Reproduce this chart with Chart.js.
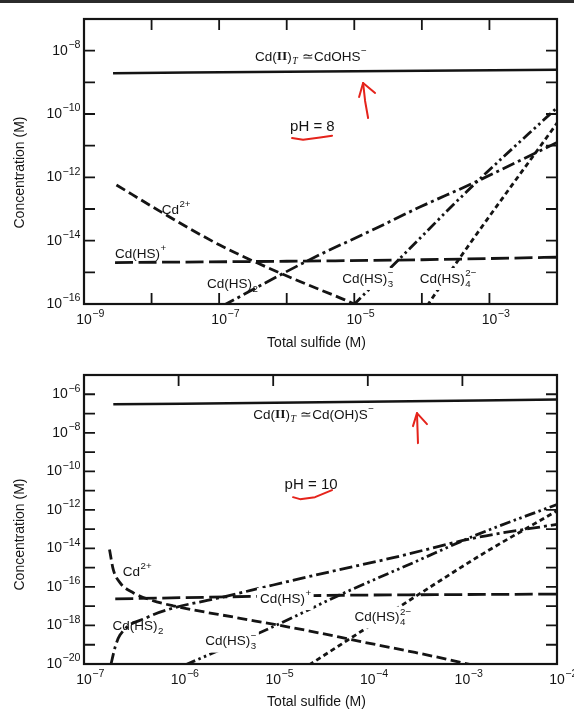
<!DOCTYPE html>
<html>
<head>
<meta charset="utf-8">
<script src="https://cdn.jsdelivr.net/npm/chart.js@4.4.0/dist/chart.umd.min.js"></script>
<style>
  body { margin: 0; background: #fff; width: 574px; height: 713px; overflow: hidden; position: relative; }
  #scanEdge { position: absolute; left: 0; top: 0; width: 574px; height: 3px; background: #2b2b2b; }
  canvas { position: absolute; left: 0; }
  #phTop { top: 0; }
  #phBottom { top: 360px; }
</style>
</head>
<body>
<div id="scanEdge"></div>
<canvas id="phTop" width="574" height="352"></canvas>
<canvas id="phBottom" width="574" height="353"></canvas>
<script>
// ---- pH = 8 panel (total sulfide in M, concentration in M) ----
const pH8SulfideCdT = [2.69e-9, 3.16e-6, 1e-2];
const pH8CdT = [1.95e-9, 2.19e-9, 2.51e-9];
const pH8SulfideCd = [3.02e-9, 1.48e-8, 1.02e-7, 3.63e-7, 1.74e-6, 7.24e-6, 1.26e-5];
const pH8Cd = [5.75e-13, 7.41e-14, 7.24e-15, 2.0e-15, 4.68e-16, 1.35e-16, 7.9e-17];
const pH8SulfideCdHS = [2.88e-9, 1e-6, 1e-4, 1e-2];
const pH8CdHS = [2.04e-15, 2.24e-15, 2.5e-15, 3.0e-15];
const pH8SulfideCdHS2 = [1.12e-7, 2.19e-6, 2.14e-5, 9.33e-5, 5.75e-4, 1e-2];
const pH8CdHS2 = [8.7e-17, 2.51e-15, 2.51e-14, 1.15e-13, 6.6e-13, 1.26e-11];
const pH8SulfideCdHS3 = [9.55e-6, 4.79e-5, 5.75e-4, 1e-2];
const pH8CdHS3 = [8.9e-17, 2.82e-15, 5.6e-13, 1.58e-10];
const pH8SulfideCdHS4 = [1.2e-4, 3.63e-4, 1e-2];
const pH8CdHS4 = [8.9e-17, 2.82e-15, 5.13e-11];

// ---- pH = 10 panel ----
const pH10SulfideCdT = [2.04e-7, 3.16e-5, 1e-2];
const pH10CdT = [3.02e-7, 3.8e-7, 5.37e-7];
const pH10SulfideCd = [1.86e-7, 2.04e-7, 2.4e-7, 3.31e-7, 5.01e-7, 8.71e-7, 4.17e-6, 1.1e-5, 3.16e-5, 6.92e-5, 3.16e-4, 7.41e-4, 1.26e-3];
const pH10Cd = [8.71e-15, 7.94e-16, 1.66e-16, 5.01e-17, 2.14e-17, 1.05e-17, 2.51e-18, 1.07e-18, 3.98e-19, 1.78e-19, 3.98e-20, 1.62e-20, 8.9e-21];
const pH10SulfideCdHS = [2.14e-7, 2.51e-5, 1e-2];
const pH10CdHS = [2.4e-17, 3.55e-17, 4.27e-17];
const pH10SulfideCdHS2 = [1.91e-7, 2.14e-7, 2.4e-7, 4.57e-7, 8.71e-7, 2.51e-6, 1e-5, 2.82e-5, 1.86e-4, 1.41e-3, 1e-2];
const pH10CdHS2 = [7.94e-21, 7.94e-20, 3.16e-19, 2.51e-18, 7.94e-18, 2.51e-17, 1.26e-16, 4.17e-16, 3.31e-15, 3.63e-14, 1.78e-13];
const pH10SulfideCdHS3 = [1.17e-6, 9.33e-6, 5.13e-5, 3.16e-4, 1.41e-3, 1e-2];
const pH10CdHS3 = [8.9e-21, 7.41e-19, 3.98e-17, 2.0e-15, 5.01e-14, 1.91e-12];
const pH10SulfideCdHS4 = [2.4e-5, 3.55e-4, 1.66e-3, 1e-2];
const pH10CdHS4 = [8.9e-21, 4.47e-17, 5.37e-15, 8.91e-13];

// tick exponents (decades) and which ones carry a label
const pH8XTicks = [-9, -8, -7, -6, -5, -4, -3, -2];
const pH8XLabels = [-9, -7, -5, -3];
const pH8YTicks = [-16, -15, -14, -13, -12, -11, -10, -9, -8, -7];
const pH8YLabels = [-16, -14, -12, -10, -8];
const pH10XTicks = [-7, -6, -5, -4, -3, -2];
const pH10XLabels = [-7, -6, -5, -4, -3, -2];
const pH10YTicks = [-20, -19, -18, -17, -16, -15, -14, -13, -12, -11, -10, -9, -8, -7, -6, -5];
const pH10YLabels = [-20, -18, -16, -14, -12, -10, -8, -6];

const INK = '#141414';
const RED = '#e5231b';
const SANS = '"Liberation Sans", Arial, sans-serif';
const SERIF = '"Liberation Serif", "Times New Roman", serif';
const MINUS = '\u2212';

const lineStyles = {
    CdT:   { borderDash: [], borderWidth: 2.5 },
    Cd:    { borderDash: [10, 4.5], borderWidth: 2.8 },
    CdHS:  { borderDash: [18, 5.5], borderWidth: 2.8 },
    CdHS2: { borderDash: [13, 4, 3, 4], borderWidth: 2.8 },
    CdHS3: { borderDash: [11, 3.5, 2.5, 3.5, 2.5, 3.5], borderWidth: 2.8 },
    CdHS4: { borderDash: [5, 3.5], borderWidth: 2.8 }
};

function series(name, xs, ys) {
    return Object.assign({
        label: name,
        data: xs.map((x, i) => ({ x: x, y: ys[i] })),
        showLine: true,
        pointRadius: 0,
        borderColor: INK,
        fill: false,
        borderCapStyle: 'butt',
        cubicInterpolationMode: 'monotone'
    }, lineStyles[name]);
}

// in-plot labels (anchor in data units, text parts); knockout = white box behind the text
const cdTPrefix = [{ t: 'Cd(' }, { t: 'II', serif: true, bold: true }, { t: ')' }, { sub: 'T', serif: true, italic: true }, { t: ' \u2243' }];
const pH8Labels = [
    { x: 3.39e-7, y: 6.31e-9, parts: cdTPrefix.concat([{ t: 'CdOHS' }, { sup: MINUS }]) },
    { x: 1.12e-6, y: 3.89e-11, size: 15, parts: [{ t: 'pH = 8' }] },
    { x: 1.41e-8, y: 9.33e-14, parts: [{ t: 'Cd' }, { sup: '2+' }] },
    { x: 2.88e-9, y: 3.8e-15, parts: [{ t: 'Cd(HS)' }, { sup: '+' }] },
    { x: 6.61e-8, y: 4.27e-16, parts: [{ t: 'Cd(HS)' }, { sub: '2' }] },
    { x: 6.61e-6, y: 6.17e-16, knockout: true, parts: [{ t: 'Cd(HS)' }, { sub: '3', sup: MINUS }] },
    { x: 9.33e-5, y: 6.17e-16, knockout: true, parts: [{ t: 'Cd(HS)' }, { sub: '4', sup: '2' + MINUS }] }
];
const pH10Labels = [
    { x: 6.17e-6, y: 8.51e-8, parts: cdTPrefix.concat([{ t: 'Cd(OH)S' }, { sup: MINUS }]) },
    { x: 1.32e-5, y: 1.95e-11, size: 15, parts: [{ t: 'pH = 10' }] },
    { x: 2.57e-7, y: 6.03e-16, parts: [{ t: 'Cd' }, { sup: '2+' }] },
    { x: 7.24e-6, y: 2.34e-17, knockout: true, parts: [{ t: 'Cd(HS)' }, { sup: '+' }] },
    { x: 2.0e-7, y: 8.71e-19, parts: [{ t: 'Cd(HS)' }, { sub: '2' }] },
    { x: 1.91e-6, y: 1.45e-19, knockout: true, parts: [{ t: 'Cd(HS)' }, { sub: '3', sup: MINUS }] },
    { x: 7.24e-5, y: 2.57e-18, knockout: true, parts: [{ t: 'Cd(HS)' }, { sub: '4', sup: '2' + MINUS }] }
];

// red pen marks on the scan: anchor in data units, strokes as pixel offsets
const pH8Marks = [
    { x: 1.35e-5, y: 9.55e-10, strokes: [[[5, 35], [2, 18], [0, 0]], [[-4, 14], [0, 0], [12, 10]]] },
    { x: 1.2e-6, y: 1.74e-11, strokes: [[[0, 0], [11, 1.7], [28, -0.5], [40, -2.3]]] }
];
const pH10Marks = [
    { x: 3.31e-4, y: 1.05e-7, strokes: [[[1, 30], [0, 0]], [[-4, 13], [0, 0], [10, 11]]] },
    { x: 1.62e-5, y: 4.57e-12, strokes: [[[0, 0], [7, 2], [22, 0], [39, -7]]] }
];

function fontFor(size, p) {
    return (p.italic ? 'italic ' : '') + (p.bold ? 'bold ' : '') + size + 'px ' + (p.serif ? SERIF : SANS);
}

// draws text with sub/superscripts; returns width
function rich(ctx, parts, x, y, size, draw, scriptScale) {
    const k = scriptScale || 0.72;
    let cx = x;
    parts.forEach(p => {
        if (p.t !== undefined) {
            ctx.font = fontFor(size, p);
            if (draw) ctx.fillText(p.t, cx, y);
            cx += ctx.measureText(p.t).width;
        } else {
            const s = size * k;
            let w = 0;
            ctx.font = fontFor(s, p);
            if (p.sup) {
                if (draw) ctx.fillText(p.sup, cx + 0.5, y - size * 0.4);
                w = Math.max(w, ctx.measureText(p.sup).width);
            }
            if (p.sub) {
                if (draw) ctx.fillText(p.sub, cx + 0.5, y + size * 0.36);
                w = Math.max(w, ctx.measureText(p.sub).width);
            }
            cx += w + 1;
        }
    });
    return cx - x;
}

function panelPlugin(cfg) {
    return {
        id: 'panel',
        afterDatasetsDraw(chart) {
            const ctx = chart.ctx;
            const a = chart.chartArea;
            const xs = chart.scales.x, ys = chart.scales.y;
            ctx.save();
            ctx.strokeStyle = INK;
            ctx.fillStyle = INK;

            ctx.lineWidth = 2.2;
            ctx.strokeRect(a.left, a.top, a.right - a.left, a.bottom - a.top);

            // inward ticks
            ctx.lineWidth = 1.8;
            ctx.beginPath();
            cfg.xTicks.forEach(e => {
                const px = xs.getPixelForValue(10 ** e);
                if (px <= a.left + 1 || px >= a.right - 1) return;
                ctx.moveTo(px, a.top); ctx.lineTo(px, a.top + 11);
                if (cfg.bottomTicks) { ctx.moveTo(px, a.bottom); ctx.lineTo(px, a.bottom - 11); }
            });
            cfg.yTicks.forEach(e => {
                const py = ys.getPixelForValue(10 ** e);
                if (py <= a.top + 1 || py >= a.bottom - 1) return;
                ctx.moveTo(a.left, py); ctx.lineTo(a.left + 11, py);
                ctx.moveTo(a.right, py); ctx.lineTo(a.right - 11, py);
            });
            ctx.stroke();

            // tick labels 10^n
            ctx.textBaseline = 'middle';
            ctx.textAlign = 'left';
            ctx.font = '14px ' + SANS;
            const w10 = ctx.measureText('10').width;
            cfg.xLabels.forEach(e => {
                const px = xs.getPixelForValue(10 ** e);
                rich(ctx, [{ t: '10' }, { sup: MINUS + (-e) }], px - w10 / 2, a.bottom + 16, 14, true, 0.76);
            });
            cfg.yLabels.forEach(e => {
                const py = ys.getPixelForValue(10 ** e);
                const parts = [{ t: '10' }, { sup: MINUS + (-e) }];
                const w = rich(ctx, parts, 0, 0, 14, false, 0.76);
                rich(ctx, parts, a.left - 3 - w, py, 14, true, 0.76);
            });

            // axis titles
            ctx.font = '14px ' + SANS;
            ctx.textAlign = 'center';
            ctx.fillText('Total sulfide (M)', (a.left + a.right) / 2 - 4, a.bottom + cfg.xTitleGap);
            ctx.save();
            ctx.translate(20, (a.top + a.bottom) / 2 + cfg.yTitleShift);
            ctx.rotate(-Math.PI / 2);
            ctx.fillText('Concentration (M)', 0, 0);
            ctx.restore();

            // species labels
            ctx.textAlign = 'left';
            cfg.labels.forEach(l => {
                const px = xs.getPixelForValue(l.x), py = ys.getPixelForValue(l.y);
                const size = l.size || 13.5;
                if (l.knockout) {
                    const w = rich(ctx, l.parts, px, py, size, false);
                    ctx.fillStyle = '#fff';
                    ctx.fillRect(px - 3, py - 11, w + 5, 22);
                    ctx.fillStyle = INK;
                }
                rich(ctx, l.parts, px, py, size, true);
            });

            // red pen marks
            ctx.strokeStyle = RED;
            ctx.lineWidth = 2;
            ctx.lineCap = 'round';
            ctx.lineJoin = 'round';
            cfg.marks.forEach(m => {
                const px = xs.getPixelForValue(m.x), py = ys.getPixelForValue(m.y);
                m.strokes.forEach(s => {
                    ctx.beginPath();
                    s.forEach((d, i) => i ? ctx.lineTo(px + d[0], py + d[1]) : ctx.moveTo(px + d[0], py + d[1]));
                    ctx.stroke();
                });
            });
            ctx.restore();
        }
    };
}

function makePanel(canvasId, datasets, cfg) {
    return new Chart(document.getElementById(canvasId), {
        type: 'scatter',
        data: { datasets: datasets },
        options: {
            responsive: false,
            animation: false,
            events: [],
            layout: { padding: { top: cfg.padTop, right: 17, left: 0, bottom: 0 } },
            plugins: { legend: { display: false }, tooltip: { enabled: false } },
            scales: {
                x: {
                    type: 'logarithmic', min: cfg.xMin, max: cfg.xMax,
                    grid: { display: false }, border: { display: false }, ticks: { display: false },
                    afterFit: s => { s.height = cfg.xAxisHeight; }
                },
                y: {
                    type: 'logarithmic', min: cfg.yMin, max: cfg.yMax,
                    grid: { display: false }, border: { display: false }, ticks: { display: false },
                    afterFit: s => { s.width = 84; }
                }
            }
        },
        plugins: [panelPlugin(cfg)]
    });
}

document.addEventListener('DOMContentLoaded', () => {
    makePanel('phTop', [
        series('CdT', pH8SulfideCdT, pH8CdT),
        series('Cd', pH8SulfideCd, pH8Cd),
        series('CdHS', pH8SulfideCdHS, pH8CdHS),
        series('CdHS2', pH8SulfideCdHS2, pH8CdHS2),
        series('CdHS3', pH8SulfideCdHS3, pH8CdHS3),
        series('CdHS4', pH8SulfideCdHS4, pH8CdHS4)
    ], {
        xMin: 1e-9, xMax: 1e-2, yMin: 1e-16, yMax: 1e-7,
        padTop: 19, xAxisHeight: 48,
        xTicks: pH8XTicks, xLabels: pH8XLabels, yTicks: pH8YTicks, yLabels: pH8YLabels,
        bottomTicks: true, xTitleGap: 39, yTitleShift: 11,
        labels: pH8Labels, marks: pH8Marks
    });

    makePanel('phBottom', [
        series('CdT', pH10SulfideCdT, pH10CdT),
        series('Cd', pH10SulfideCd, pH10Cd),
        series('CdHS', pH10SulfideCdHS, pH10CdHS),
        series('CdHS2', pH10SulfideCdHS2, pH10CdHS2),
        series('CdHS3', pH10SulfideCdHS3, pH10CdHS3),
        series('CdHS4', pH10SulfideCdHS4, pH10CdHS4)
    ], {
        xMin: 1e-7, xMax: 1e-2, yMin: 1e-20, yMax: 1e-5,
        padTop: 15, xAxisHeight: 49,
        xTicks: pH10XTicks, xLabels: pH10XLabels, yTicks: pH10YTicks, yLabels: pH10YLabels,
        bottomTicks: false, xTitleGap: 38, yTitleShift: 15,
        labels: pH10Labels, marks: pH10Marks
    });
});
</script>
</body>
</html>
